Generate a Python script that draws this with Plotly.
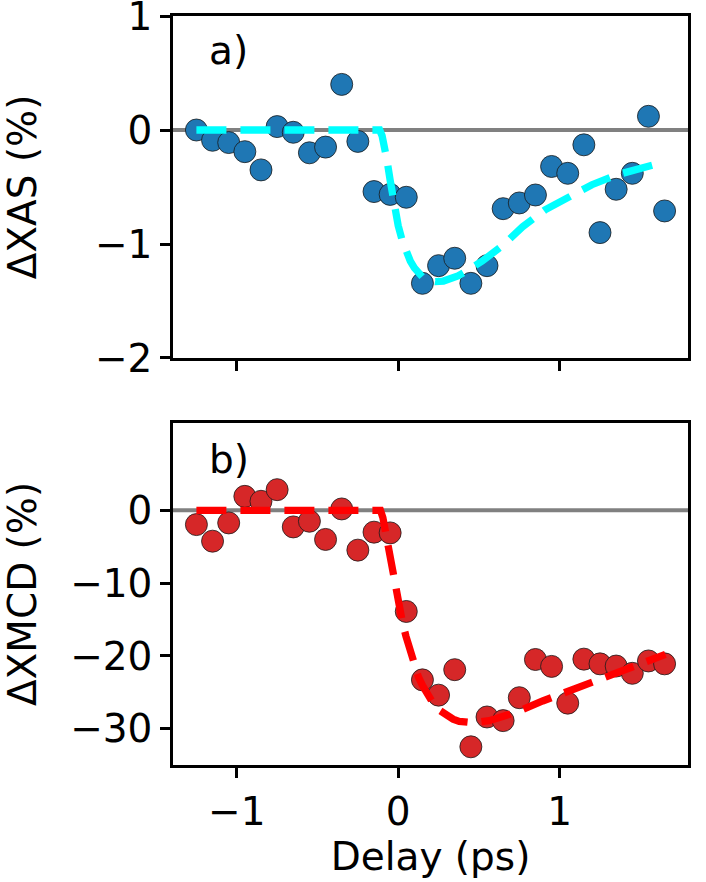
import plotly.graph_objects as go
from plotly.subplots import make_subplots

# Delay (ps)
delay = [-1.25, -1.15, -1.05, -0.95, -0.85, -0.75, -0.65, -0.55, -0.45, -0.35,
         -0.25, -0.15, -0.05, 0.05, 0.15, 0.25, 0.35, 0.45, 0.55, 0.65,
         0.75, 0.85, 0.95, 1.05, 1.15, 1.25, 1.35, 1.45, 1.55, 1.65]

# Panel a) ΔXAS (%)
xas = [0.0, -0.09, -0.11, -0.19, -0.35, 0.03, -0.02, -0.20, -0.15, 0.40,
       -0.10, -0.54, -0.565, -0.59, -1.345, -1.19, -1.125, -1.345, -1.19, -0.69,
       -0.64, -0.57, -0.32, -0.38, -0.13, -0.90, -0.52, -0.38, 0.12, -0.71]

# Panel b) ΔXMCD (%)
xmcd = [-1.96, -4.24, -1.73, 1.92, 1.24, 2.84, -2.28, -1.5, -4.0, 0.19,
        -5.47, -3.0, -3.1, -13.9, -23.3, -25.4, -21.9, -32.5, -28.4, -28.9,
        -25.75, -20.5, -21.45, -26.5, -20.45, -21.1, -21.4, -22.4, -20.7, -21.1]

# Fit curves
fit_a_x = [-1.25, -0.115, -0.1, -0.085, -0.07, -0.05, -0.025, 0.0, 0.025, 0.05, 0.075,
           0.1, 0.125, 0.15, 0.19, 0.23, 0.28, 0.32, 0.37, 0.42, 0.52, 0.65, 0.77,
           0.91, 1.06, 1.2, 1.35, 1.5, 1.65]
fit_a_y = [0.0, 0.0, -0.05, -0.14, -0.26, -0.44, -0.66, -0.84, -0.97, -1.07, -1.15,
           -1.21, -1.26, -1.29, -1.32, -1.33, -1.325, -1.31, -1.28, -1.24, -1.15, -1.01, -0.85,
           -0.70, -0.585, -0.48, -0.395, -0.33, -0.28]

fit_b_x = [-1.25, -0.11, -0.095, -0.08, -0.066, -0.05, -0.035, -0.015, 0.006, 0.027,
           0.048, 0.075, 0.1, 0.125, 0.151, 0.18, 0.213, 0.25, 0.296, 0.34, 0.378,
           0.42, 0.461, 0.564, 0.73, 0.895, 1.06, 1.226, 1.39, 1.516, 1.655]
fit_b_y = [0.0, 0.0, -1.0, -2.8, -4.9, -7.0, -9.0, -11.3, -13.6, -15.5,
           -17.3, -19.5, -21.4, -22.9, -24.1, -25.3, -26.4, -27.4, -28.2, -28.7, -29.0,
           -29.15, -29.2, -28.9, -27.75, -26.2, -24.8, -23.4, -22.05, -21.1, -19.8]

x_ticks = [-1, 0, 1]
x_ticktext = ["\u22121", "0", "1"]
ya_ticks = [-2, -1, 0, 1]
ya_ticktext = ["\u22122", "\u22121", "0", "1"]
yb_ticks = [-30, -20, -10, 0]
yb_ticktext = ["\u221230", "\u221220", "\u221210", "0"]

FONT = "DejaVu Sans"
FS = 39

fig = make_subplots(rows=2, cols=1, shared_xaxes=False, vertical_spacing=0.0)

# data points
fig.add_trace(go.Scatter(x=delay, y=xas, mode="markers",
                         marker=dict(size=22, color="#1f77b4",
                                     line=dict(color="#1a1a1a", width=0.8)),
                         showlegend=False), row=1, col=1)
fig.add_trace(go.Scatter(x=fit_a_x, y=fit_a_y, mode="lines",
                         line=dict(color="#00ffff", width=7.3, dash="30px,14px"),
                         showlegend=False), row=1, col=1)

fig.add_trace(go.Scatter(x=delay, y=xmcd, mode="markers",
                         marker=dict(size=22, color="#d62728",
                                     line=dict(color="#1a1a1a", width=0.8)),
                         showlegend=False), row=2, col=1)
fig.add_trace(go.Scatter(x=fit_b_x, y=fit_b_y, mode="lines",
                         line=dict(color="#ff0000", width=7.3, dash="30px,14px"),
                         showlegend=False), row=2, col=1)

# zero lines
for r in (1, 2):
    fig.add_hline(y=0, line=dict(color="#808080", width=4), layer="below", row=r, col=1)

axis_common = dict(showline=True, linecolor="black", linewidth=2.5, mirror=True,
                   ticks="outside", ticklen=10, tickwidth=2.5, tickcolor="black",
                   showgrid=False, zeroline=False, ticklabeloverflow="allow",
                   tickfont=dict(family=FONT, size=FS, color="black"))

fig.update_xaxes(range=[-1.395, 1.795], tickvals=x_ticks, ticktext=x_ticktext,
                 **axis_common)
fig.update_xaxes(showticklabels=False, domain=[0, 1], row=1, col=1)
fig.update_xaxes(title=dict(text="Delay (ps)", font=dict(family=FONT, size=FS, color="black"),
                            standoff=8), row=2, col=1)

fig.update_yaxes(**axis_common)
fig.update_yaxes(range=[-2, 1], tickvals=ya_ticks, ticktext=ya_ticktext,
                 domain=[0.5434, 1.0],
                 title=dict(text="\u0394XAS (%)", font=dict(family=FONT, size=FS, color="black"),
                            standoff=58), row=1, col=1)
fig.update_yaxes(range=[-35, 12], tickvals=yb_ticks, ticktext=yb_ticktext,
                 domain=[0.0, 0.4566],
                 title=dict(text="\u0394XMCD (%)", font=dict(family=FONT, size=FS, color="black"),
                            standoff=28), row=2, col=1)

fig.add_annotation(text="a)", xref="x domain", yref="y domain", x=0.066, y=0.898,
                   xanchor="left", yanchor="middle", showarrow=False,
                   font=dict(family=FONT, size=FS, color="black"))
fig.add_annotation(text="b)", xref="x2 domain", yref="y2 domain", x=0.066, y=0.892,
                   xanchor="left", yanchor="middle", showarrow=False,
                   font=dict(family=FONT, size=FS, color="black"))

fig.update_layout(width=706, height=882,
                  margin=dict(l=173, r=18, t=16, b=117, autoexpand=False),
                  plot_bgcolor="white", paper_bgcolor="white",
                  font=dict(family=FONT, size=FS, color="black"))

fig.write_html("out.html")
